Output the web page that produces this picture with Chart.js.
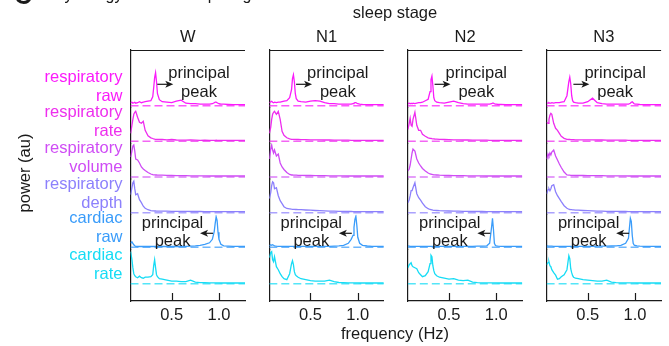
<!DOCTYPE html>
<html>
<head>
<meta charset="utf-8">
<script src="https://cdn.jsdelivr.net/npm/chart.js@4.4.1/dist/chart.umd.min.js"></script>
<style>
  html, body { margin: 0; padding: 0; background: #fff; }
  #wrap { position: relative; width: 669px; height: 346px; overflow: hidden; }
  #wrap canvas { position: absolute; left: 0; top: 0; }
</style>
</head>
<body>
<div id="wrap">
  <canvas id="stage0" width="669" height="346"></canvas>
  <canvas id="stage1" width="669" height="346"></canvas>
  <canvas id="stage2" width="669" height="346"></canvas>
  <canvas id="stage3" width="669" height="346"></canvas>
</div>
<script>
const FONT = '"Liberation Sans", Arial, Helvetica, sans-serif';
const INK = '#1a1a1a';

// ---- data ----
const stages = ['W', 'N1', 'N2', 'N3'];
const rowLabels = [
    ['respiratory', 'raw'],
    ['respiratory', 'rate'],
    ['respiratory', 'volume'],
    ['respiratory', 'depth'],
    ['cardiac', 'raw'],
    ['cardiac', 'rate']
];
const rowColors = ['#fb1afb', '#ee2eee', '#cf4cf5', '#8c80fc', '#3a9cfa', '#16dcf5'];
const xTicks = [0.5, 1.0];

// frequency grid (Hz), shared by all spectra
const freq = [0.066, 0.08, 0.09, 0.10, 0.11, 0.12, 0.14, 0.16, 0.18, 0.20, 0.22, 0.25, 0.28, 0.30, 0.31,
    0.32, 0.33, 0.34, 0.35, 0.37, 0.40, 0.45, 0.50, 0.55, 0.60, 0.65, 0.70, 0.75, 0.80, 0.85,
    0.90, 0.93, 0.95, 0.96, 0.97, 0.98, 0.99, 1.00, 1.02, 1.05, 1.10, 1.15, 1.20, 1.25, 1.275];

// power (au), one array per stage and signal
const W_respRaw = [3, 3.5, 2.5, 3, 3.5, 2.5, 3, 4, 3, 3.5, 4, 4.5, 5, 9, 18, 28, 33, 24, 12, 6, 4, 3.5, 3, 4.5, 5.5, 2.5, 2, 2, 1.5, 1.5, 1.5, 2, 3, 3.5, 3.5, 3, 2.5, 2, 1.5, 1.5, 1.2, 1, 1, 1, 1];
const N1_respRaw = [3, 4, 4.5, 3.5, 3, 3.5, 3, 3.5, 3.5, 4, 4.5, 5, 8, 16, 27, 31, 24, 12, 7, 4.5, 4, 3.5, 4.5, 5, 4.5, 3, 2, 2, 1.5, 1.5, 1.5, 1.5, 2, 2.5, 3, 3, 2.5, 2, 1.5, 1.2, 1, 1, 1, 1, 1];
const N2_respRaw = [2, 2.5, 2, 2.5, 2, 2.5, 2, 2.5, 3, 3, 3.5, 5, 6.5, 14, 26, 29.5, 20, 8, 5, 3.5, 3, 2.5, 3.5, 4.5, 3, 2, 1.5, 1.5, 1.5, 1.5, 1.5, 1.5, 2, 2.5, 2.5, 2, 1.5, 1.5, 1.2, 1.2, 1, 1, 1, 1, 1];
const N3_respRaw = [2.5, 2.5, 3, 2.5, 2.5, 3, 2.5, 3, 3, 3, 3.5, 4, 10, 24, 28.5, 22, 10, 5, 3.5, 3, 2.5, 2.5, 4, 7.5, 3, 2, 1.5, 1.5, 1.5, 1.5, 1.5, 1.5, 2.5, 3.5, 4, 3, 2, 1.5, 1.5, 1.2, 1, 1, 1, 1, 1];

const W_respRate = [8, 16, 22, 27, 29, 30, 24, 19, 18, 20, 11, 5.5, 3.5, 2.8, 2.5, 2.2, 2, 2, 2, 2, 1.8, 1.5, 1.8, 1.3, 1.2, 1.2, 1.3, 1.1, 1, 1.1, 1, 1, 1, 1, 1.1, 1, 1, 1, 1, 1, 1, 1, 1, 1, 1];
const N1_respRate = [8, 14, 22, 27, 29, 30, 27, 30, 22, 10, 6, 3.5, 2.5, 2, 2, 2, 2, 2, 1.8, 1.8, 1.7, 1.6, 1.5, 1.5, 1.4, 1.3, 1.3, 1.2, 1.2, 1.1, 1.1, 1, 1, 1, 1, 1, 1, 1, 1, 1, 1, 1, 1, 1, 1];
const N2_respRate = [12, 18, 23, 16, 15, 22, 29, 16, 11, 11, 7, 5, 3.5, 3, 2.8, 2.6, 2.5, 2.4, 2.3, 2.2, 2, 1.8, 1.6, 1.5, 1.4, 1.3, 1.3, 1.2, 1.2, 1.1, 1.1, 1, 1, 1, 1, 1, 1, 1, 1, 1, 1, 1, 1, 1, 1];
const N3_respRate = [19, 18, 22, 26, 28, 27, 18, 13, 11, 8, 5, 3, 2, 1.8, 1.8, 1.7, 1.7, 1.6, 1.6, 1.5, 1.5, 1.5, 1.4, 1.4, 1.3, 1.3, 1.2, 1.2, 1.2, 1.1, 1.1, 1, 1, 1, 1, 1, 1, 1, 1, 1, 1, 1, 1, 1, 1];

const W_respVolume = [20, 26, 31, 32, 26, 18, 17, 14, 10, 8, 6.5, 4.5, 3, 2.3, 2.2, 2.1, 2, 2, 1.9, 1.9, 1.8, 1.7, 1.5, 1.4, 1.3, 1.3, 1.2, 1.2, 1.1, 1.1, 1, 1, 1, 1, 1, 1, 1, 1, 1, 1, 1, 1, 1, 1, 1];
const N1_respVolume = [18, 28, 32, 27, 24, 27, 21, 23, 14, 10, 7.5, 4.5, 2.5, 2, 2, 1.9, 1.9, 1.8, 1.8, 1.7, 1.6, 1.5, 1.5, 1.4, 1.3, 1.3, 1.2, 1.2, 1.1, 1.1, 1, 1, 1, 1, 1, 1, 1, 1, 1, 1, 1, 1, 1, 1, 1];
const N2_respVolume = [6, 8, 12, 18, 24, 28, 26, 18, 14, 11, 8.5, 6, 4, 3, 2.8, 2.6, 2.4, 2.2, 2.1, 2, 1.8, 1.6, 1.5, 1.4, 1.3, 1.3, 1.2, 1.2, 1.1, 1.1, 1, 1, 1, 1, 1, 1, 1, 1, 1, 1, 1, 1, 1, 1, 1];
const N3_respVolume = [18, 23, 21, 24, 22, 25, 27, 21, 17, 13, 9.5, 5, 2, 1.8, 1.8, 1.7, 1.7, 1.6, 1.6, 1.5, 1.5, 1.5, 1.4, 1.4, 1.3, 1.3, 1.2, 1.2, 1.2, 1.1, 1.1, 1, 1, 1, 1, 1, 1, 1, 1, 1, 1, 1, 1, 1, 1];

const W_respDepth = [18, 25, 30, 31.5, 24, 18, 19, 13, 10, 6.5, 4.5, 3, 2, 1.8, 1.8, 1.7, 1.7, 1.6, 1.6, 1.5, 1.5, 1.5, 1.4, 1.4, 1.3, 1.3, 1.2, 1.2, 1.2, 1.1, 1.1, 1, 1, 1, 1, 1, 1, 1, 1, 1, 1, 1, 1, 1, 1];
const N1_respDepth = [14, 20, 27, 31, 30, 24, 25, 17, 12, 9, 6, 4.2, 3.8, 3.5, 3.4, 3.3, 3.3, 3.2, 3.2, 3.1, 3, 2.7, 2.5, 2.2, 2, 1.8, 1.6, 1.5, 1.4, 1.3, 1.2, 1.2, 1.1, 1.1, 1.1, 1, 1, 1, 1, 1, 1, 1, 1, 1, 1];
const N2_respDepth = [10, 13, 17, 22, 22, 25, 30, 19, 15, 12.5, 9.5, 6, 4, 3.2, 3, 2.8, 2.5, 2.4, 2.3, 2.2, 2, 1.8, 1.7, 1.6, 1.5, 1.4, 1.3, 1.3, 1.2, 1.2, 1.1, 1.1, 1, 1, 1, 1, 1, 1, 1, 1, 1, 1, 1, 1, 1];
const N3_respDepth = [19, 23, 24, 22, 24, 27, 28, 21, 17, 14, 11, 7, 4.5, 3.5, 3.2, 3.1, 3, 2.9, 2.8, 2.6, 2.5, 2.2, 2, 1.8, 1.6, 1.5, 1.4, 1.3, 1.3, 1.2, 1.2, 1.1, 1.1, 1, 1, 1, 1, 1, 1, 1, 1, 1, 1, 1, 1];

const W_cardiacRaw = [4, 5.5, 4, 2.5, 1.5, 1, 0.8, 0.8, 0.8, 0.8, 0.8, 0.8, 0.8, 0.8, 0.8, 0.8, 0.8, 0.8, 0.8, 0.8, 0.8, 0.8, 0.8, 0.8, 0.8, 1, 1.2, 1.5, 2, 3, 4.5, 8, 16, 24, 30.5, 27, 15, 8, 3, 1.5, 1.2, 1, 1, 1, 1];
const N1_cardiacRaw = [1.5, 2.5, 2, 2.5, 2, 1.5, 1.2, 1, 1, 1, 1, 1, 1, 1, 1, 1, 1, 1, 1, 1, 1, 1, 1, 1, 1, 1, 1, 1.2, 1.5, 2, 4, 8, 12, 20, 28, 31, 22, 10, 4, 2, 1.3, 1, 1, 1, 1];
const N2_cardiacRaw = [1.5, 1.2, 1, 1, 1, 1, 1, 1, 1, 1, 1, 1, 1, 1, 1, 1, 1, 1, 1, 1, 1, 1, 1, 1, 1, 1, 1, 1, 1.1, 1.2, 1.5, 4, 20, 29, 18, 4, 2, 1.5, 1.2, 1, 1, 1, 1, 1, 1];
const N3_cardiacRaw = [1.5, 1.3, 1.2, 1.2, 1.1, 1.1, 1, 1, 1, 1, 1, 1, 1, 1, 1, 1, 1, 1, 1, 1, 1, 1, 1, 1, 1.1, 1.1, 1.2, 1.3, 1.5, 2, 4, 9, 29, 26, 12, 4, 2.3, 1.8, 1.5, 1.2, 1, 1, 1, 1, 1];

const W_cardiacRate = [32, 24, 16, 10, 8, 7, 6, 7.5, 6, 5.5, 6.5, 6.5, 7, 9, 18, 24, 16, 9, 7, 5, 4.5, 3.5, 2.5, 2.5, 2, 2, 3.5, 1.5, 1, 1, 0.8, 0.8, 0.8, 0.8, 0.8, 0.8, 0.8, 0.8, 0.7, 0.7, 0.7, 0.7, 0.7, 0.7, 0.7];
const N1_cardiacRate = [26, 31, 32, 24, 22, 27, 17, 14, 10, 7, 5, 4, 10, 20, 23, 19, 12, 9, 8, 6.5, 5, 4, 3, 2.5, 2.5, 2.5, 3.5, 2, 1.2, 1, 0.8, 0.8, 0.8, 0.8, 0.8, 0.8, 0.8, 0.8, 0.7, 0.7, 0.7, 0.7, 0.7, 0.7, 0.7];
const N2_cardiacRate = [16, 19, 20, 21, 18, 17, 16, 15, 11, 9, 7, 8, 12, 20, 28.5, 27, 18, 13, 10, 8, 6.5, 5.5, 4.5, 5, 3.5, 3, 3.5, 1.5, 1, 0.9, 0.8, 0.8, 0.8, 0.8, 0.8, 0.8, 0.8, 0.8, 0.7, 0.7, 0.7, 0.7, 0.7, 0.7, 0.7];
const N3_cardiacRate = [19, 21, 22, 18, 17, 14, 11, 8.5, 4.5, 5, 7, 9, 14, 28, 25, 15, 11, 8, 6.5, 5.5, 5, 4, 3.5, 3, 2.5, 2.5, 3.5, 1.5, 1, 0.9, 0.8, 0.8, 0.8, 0.8, 0.8, 0.8, 0.8, 0.8, 0.7, 0.7, 0.7, 0.7, 0.7, 0.7, 0.7];

const spectra = {
    W: [W_respRaw, W_respRate, W_respVolume, W_respDepth, W_cardiacRaw, W_cardiacRate],
    N1: [N1_respRaw, N1_respRate, N1_respVolume, N1_respDepth, N1_cardiacRaw, N1_cardiacRate],
    N2: [N2_respRaw, N2_respRate, N2_respVolume, N2_respDepth, N2_cardiacRaw, N2_cardiacRate],
    N3: [N3_respRaw, N3_respRate, N3_respVolume, N3_respDepth, N3_cardiacRaw, N3_cardiacRate]
};

// ---- layout ----
const xMin = 0.065, xMax = 1.275;
const panelLeft = [130.5, 269.3, 407.8, 546.6];
const panelWidth = 114.5;
// each row keeps its own y range, baseline at 0
const rowRange = [[-2, 55.7], [-2, 33.6], [-2, 33.7], [-2, 33.7], [-2, 32.6], [-17.3, 34.4]];
const labelLevel = 19;

// "principal peak" notes, in data units of the row they sit in
const peakNotes = [
    { row: 0, textX: 0.789, lineY: [27.4, 8.4], from: [0.348, 21.4], to: [0.517, 21.4] },
    { row: 4, textX: 0.509, lineY: [19.6, 1.4], from: [0.937, 14], to: [0.80, 14] }
];

const font = (size) => `${size}px ${FONT}`;

const panelDecor = {
    id: 'panelDecor',
    afterDraw(chart, args, opts) {
        const { ctx, chartArea: a, scales } = chart;
        ctx.save();
        ctx.strokeStyle = INK;
        ctx.fillStyle = INK;
        ctx.lineWidth = 1.2;

        // top frame line
        ctx.beginPath();
        ctx.moveTo(a.left, a.top + 0.5);
        ctx.lineTo(a.right, a.top + 0.5);
        ctx.stroke();

        // tick marks pointing inwards
        xTicks.forEach(v => {
            const px = Math.round(scales.x.getPixelForValue(v)) + 0.5;
            ctx.beginPath();
            ctx.moveTo(px, a.bottom);
            ctx.lineTo(px, a.bottom - 8);
            ctx.stroke();
        });

        // stage title
        ctx.font = font(16.5);
        ctx.textAlign = 'center';
        ctx.textBaseline = 'alphabetic';
        ctx.fillText(opts.title, (a.left + a.right) / 2, 42);

        // principal peak notes
        peakNotes.forEach(n => {
            const ys = scales['y' + n.row];
            const tx = scales.x.getPixelForValue(n.textX);
            ctx.fillText('principal', tx, ys.getPixelForValue(n.lineY[0]));
            ctx.fillText('peak', tx, ys.getPixelForValue(n.lineY[1]));

            const x1 = scales.x.getPixelForValue(n.from[0]);
            const x2 = scales.x.getPixelForValue(n.to[0]);
            const y = ys.getPixelForValue(n.to[1]);
            const dir = Math.sign(x2 - x1);
            ctx.beginPath();
            ctx.moveTo(x1, y);
            ctx.lineTo(x2 - dir * 5, y);
            ctx.stroke();
            ctx.beginPath();
            ctx.moveTo(x2, y);
            ctx.lineTo(x2 - dir * 8, y - 3.5);
            ctx.lineTo(x2 - dir * 6, y);
            ctx.lineTo(x2 - dir * 8, y + 3.5);
            ctx.closePath();
            ctx.fill();
        });
        ctx.restore();
    }
};

// figure-wide text, drawn once on the first canvas
const figureText = {
    id: 'figureText',
    afterDraw(chart) {
        const { ctx } = chart;
        ctx.save();
        ctx.fillStyle = INK;
        ctx.textBaseline = 'alphabetic';

        // heading sits above the crop, only its lowest strokes show
        ctx.font = `bold 25px ${FONT}`;
        ctx.textAlign = 'left';
        ctx.fillText('C', 14, 4);
        ctx.font = font(16);
        ctx.fillText('Physiology across sleep stages', 45, -0.5);

        ctx.font = font(16.5);
        ctx.textAlign = 'center';
        ctx.fillText('sleep stage', 395, 18);
        ctx.fillText('frequency (Hz)', 395, 339);

        ctx.translate(30, 173);
        ctx.rotate(-Math.PI / 2);
        ctx.fillText('power (au)', 0, 0);
        ctx.restore();
    }
};

function drawStage(s) {
    const stage = stages[s];
    const datasets = [];
    rowLabels.forEach((lab, r) => {
        const power = spectra[stage][r];
        datasets.push({
            label: lab.join(' '),
            data: freq.map((f, i) => ({ x: f, y: power[i] })),
            xAxisID: 'x',
            yAxisID: 'y' + r,
            borderColor: rowColors[r],
            borderWidth: 1.3,
            pointRadius: 0,
            tension: 0,
            order: 1
        });
        datasets.push({
            label: lab.join(' ') + ' baseline',
            data: [{ x: xMin, y: 0 }, { x: xMax, y: 0 }],
            xAxisID: 'x',
            yAxisID: 'y' + r,
            borderColor: rowColors[r] + 'bb',
            borderWidth: 1.5,
            borderDash: [8, 4],
            pointRadius: 0,
            order: 2
        });
    });

    const scales = {
        x: {
            type: 'linear',
            position: 'bottom',
            min: xMin,
            max: xMax,
            grid: { display: false, drawTicks: false },
            border: { display: true, color: INK, width: 1.2 },
            ticks: {
                color: INK,
                font: { family: FONT, size: 16.5 },
                padding: 5,
                maxRotation: 0,
                autoSkip: false,
                callback: v => v.toFixed(1)
            },
            afterBuildTicks: axis => { axis.ticks = xTicks.map(v => ({ value: v })); },
            afterFit: axis => { axis.height = 45; }
        }
    };
    rowLabels.forEach((lab, r) => {
        scales['y' + r] = {
            type: 'linear',
            position: 'left',
            stack: 'rows',
            stackWeight: rowRange[r][1] - rowRange[r][0],
            weight: rowLabels.length - r,
            min: rowRange[r][0],
            max: rowRange[r][1],
            grid: { display: false, drawTicks: false },
            border: { display: true, color: INK, width: 1.2 },
            ticks: {
                display: s === 0,
                color: rowColors[r],
                font: { family: FONT, size: 16.5, lineHeight: 1.15 },
                padding: 8,
                autoSkip: false,
                callback: () => lab
            },
            afterBuildTicks: axis => { axis.ticks = [{ value: labelLevel }]; },
            // axis box spans the whole left margin so its labels are not clipped
            afterFit: axis => { axis.width = panelLeft[s] - 1; }
        };
    });

    return new Chart(document.getElementById('stage' + s), {
        type: 'line',
        data: { datasets },
        options: {
            responsive: false,
            animation: false,
            events: [],
            layout: {
                padding: {
                    left: 1,
                    right: 669 - panelLeft[s] - panelWidth,
                    top: 50,
                    bottom: 0
                }
            },
            scales,
            plugins: {
                legend: { display: false },
                tooltip: { enabled: false },
                panelDecor: { title: stage }
            }
        },
        plugins: s === 0 ? [panelDecor, figureText] : [panelDecor]
    });
}

stages.forEach((st, s) => drawStage(s));
</script>
</body>
</html>
